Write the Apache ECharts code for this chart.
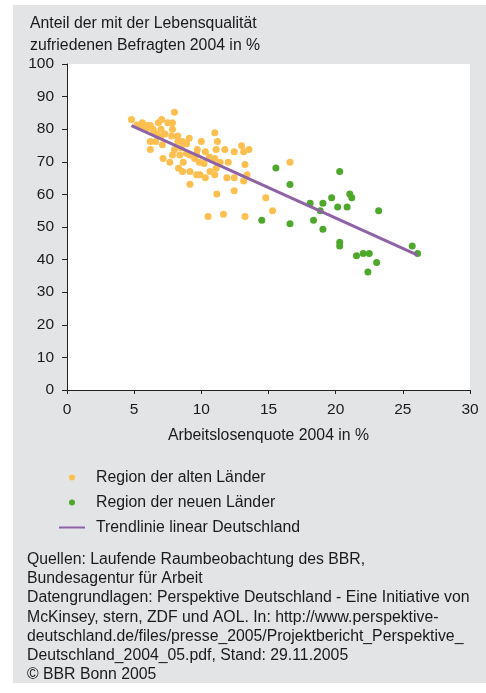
<!DOCTYPE html>
<html>
<head>
<meta charset="utf-8">
<script src="https://cdn.jsdelivr.net/npm/echarts@6/dist/echarts.min.js"></script>
<style>
  html, body { margin: 0; padding: 0; background: #fff; }
  #panel { position: absolute; left: 13px; top: 5px; width: 473px; height: 678px; background: #e3e4e6; }
  #chart { position: absolute; left: 0; top: 0; width: 486px; height: 693px; }
</style>
</head>
<body>
<div id="panel"></div>
<div id="chart"></div>
<script>
// Arbeitslosenquote / Zufriedenheit
var alteLaender = [
  [4.8, 83.0], [5.6, 82.0], [5.2, 81.3], [6.0, 81.1], [6.2, 81.1], [6.8, 82.0], [7.05, 83.0], [8.0, 85.2],
  [7.5, 82.0], [7.85, 82.0], [6.4, 80.0], [7.0, 80.0], [7.85, 80.0], [5.9, 79.8], [6.7, 78.2], [7.0, 77.9],
  [7.8, 77.9], [8.25, 77.9], [9.1, 77.2], [11.0, 78.9], [6.2, 76.2], [6.6, 76.2], [7.1, 75.2], [6.2, 73.8],
  [8.25, 76.2], [8.6, 76.2], [10.0, 76.2], [11.2, 76.2], [8.0, 73.8], [8.5, 74.2], [9.7, 73.8], [11.1, 73.8],
  [11.75, 73.8], [10.3, 73.1], [8.9, 72.6], [9.65, 72.4], [13.0, 74.9], [13.55, 73.8], [12.45, 73.1], [13.15, 73.1],
  [7.85, 72.1], [8.4, 72.1], [7.15, 71.0], [7.65, 69.9], [8.65, 69.9], [9.15, 72.1], [9.85, 69.9], [10.2, 69.5],
  [11.0, 71.0], [11.4, 69.9], [12.0, 69.9], [13.25, 69.2], [8.3, 68.0], [8.6, 67.0], [9.15, 67.0], [9.65, 66.0],
  [9.9, 66.0], [10.3, 65.1], [10.65, 67.0], [11.0, 66.0], [11.1, 68.0], [11.9, 65.1], [12.45, 65.1], [13.4, 66.0],
  [13.15, 64.1], [9.15, 63.1], [11.15, 60.1], [12.45, 61.1], [14.8, 59.0], [15.3, 55.0], [10.5, 53.2], [11.65, 53.9],
  [13.25, 53.2], [16.6, 69.9], [5.5, 80.5], [6.5, 79.0], [7.3, 78.5], [8.9, 75.5], [9.5, 71.0], [10.6, 71.5]
];
var neueLaender = [
  [20.3, 67.0], [16.6, 63.0], [16.6, 51.0], [18.1, 57.3], [19.05, 57.3], [18.85, 55.0], [19.7, 59.0], [18.35, 52.1],
  [19.05, 49.3], [20.15, 56.1], [20.85, 56.1], [21.05, 60.1], [21.2, 59.0], [23.2, 55.0], [20.3, 45.3], [20.3, 44.2],
  [21.55, 41.2], [22.05, 41.9], [22.5, 41.9], [23.05, 39.1], [22.4, 36.2], [25.7, 44.2], [26.1, 41.9], [15.55, 68.1],
  [14.5, 52.1]
];
var trendlinie = [[4.8, 81.1], [26.1, 41.4]];

var xTicks = [0, 30, 5];   // min, max, interval
var yTicks = [0, 100, 10];

var quellen = [
  "Quellen: Laufende Raumbeobachtung des BBR,",
  "Bundesagentur für Arbeit",
  "Datengrundlagen: Perspektive Deutschland - Eine Initiative von",
  "McKinsey, stern, ZDF und AOL. In: http://www.perspektive-",
  "deutschland.de/files/presse_2005/Projektbericht_Perspektive_",
  "Deutschland_2004_05.pdf, Stand: 29.11.2005",
  "© BBR Bonn 2005"
];
var quellenY = [561, 580, 599, 619, 638, 657, 676];

var font = "'Liberation Sans', Arial, sans-serif";
var chart = echarts.init(document.getElementById("chart"));

var footer = quellen.map(function (t, i) {
  return {
    type: "text", left: 27, top: quellenY[i] - 9,
    style: { text: t, fill: "#1a1a1a", font: "15.8px " + font }
  };
});

var option = {
  backgroundColor: "transparent",
  animation: false,
  title: {
    text: "Anteil der mit der Lebensqualität\nzufriedenen Befragten 2004 in %",
    left: 25, top: 8,
    textStyle: { fontSize: 15.8, fontWeight: "normal", color: "#1a1a1a", fontFamily: font, lineHeight: 22 }
  },
  grid: { left: 67, right: 16, top: 64, bottom: 303, show: true, backgroundColor: "#fff", borderWidth: 0 },
  xAxis: {
    type: "value", min: xTicks[0], max: xTicks[1], interval: xTicks[2],
    name: "Arbeitslosenquote 2004 in %", nameLocation: "middle", nameGap: 38,
    nameTextStyle: { fontSize: 15.8, color: "#1a1a1a", fontFamily: font },
    axisLine: { lineStyle: { color: "#222", width: 1 } },
    axisTick: { show: true, length: 4, lineStyle: { color: "#222" } },
    axisLabel: { fontSize: 15.5, color: "#1a1a1a", fontFamily: font, margin: 12 },
    splitLine: { show: false }
  },
  yAxis: {
    type: "value", min: yTicks[0], max: yTicks[1], interval: yTicks[2],
    axisLine: { show: true, lineStyle: { color: "#222", width: 1 } },
    axisTick: { show: true, length: 5, lineStyle: { color: "#222" } },
    axisLabel: { fontSize: 15.5, color: "#1a1a1a", fontFamily: font, margin: 13 },
    splitLine: { show: false }
  },
  legend: {
    orient: "vertical", left: 53, top: 464,
    itemWidth: 26, itemHeight: 6, itemGap: 8,
    textStyle: { fontSize: 15.8, color: "#1a1a1a", fontFamily: font, lineHeight: 17, padding: [0, 0, 0, 6] },
    data: [
      { name: "Region der alten Länder", icon: "circle" },
      { name: "Region der neuen Länder", icon: "circle" },
      { name: "Trendlinie linear Deutschland", itemStyle: { opacity: 0 } }
    ]
  },
  series: [
    {
      name: "Region der alten Länder", type: "scatter", symbolSize: 7,
      itemStyle: { color: "#fdbf4f", opacity: 1 }, data: alteLaender, z: 2
    },
    {
      name: "Region der neuen Länder", type: "scatter", symbolSize: 7,
      itemStyle: { color: "#4ea82c", opacity: 1 }, data: neueLaender, z: 2
    },
    {
      name: "Trendlinie linear Deutschland", type: "line", symbol: "none",
      lineStyle: { color: "#8e63a6", width: 3 }, itemStyle: { color: "#8e63a6" },
      data: trendlinie, z: 3
    }
  ],
  graphic: footer
};

chart.setOption(option);
</script>
</body>
</html>
